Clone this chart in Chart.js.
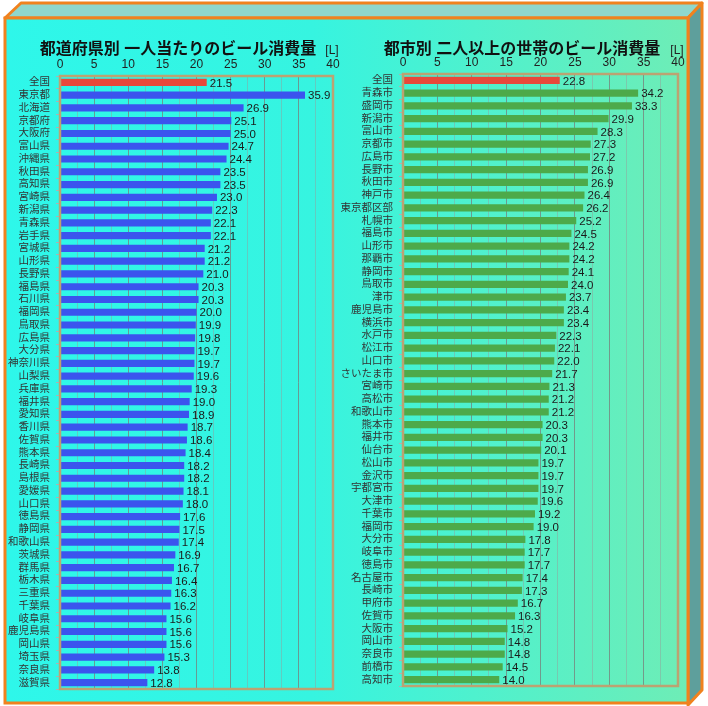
<!DOCTYPE html>
<html>
<head>
<meta charset="utf-8">
<script src="https://cdn.jsdelivr.net/npm/chart.js@4.4.1/dist/chart.umd.min.js"></script>
<style>
  html, body { margin: 0; padding: 0; background: #fff; }
  #wrap { position: relative; width: 708px; height: 706px; overflow: hidden; }
  #frame { position: absolute; left: 0; top: 0; }
  canvas { position: absolute; top: 0; }
  #leftChart { left: 0; }
  #rightChart { left: 336px; }
</style>
</head>
<body>
<div id="wrap">
  <svg id="frame" width="708" height="706">
    <defs>
      <linearGradient id="face" x1="0" y1="0" x2="1" y2="0">
        <stop offset="0" stop-color="#2ef7ea"/>
        <stop offset="0.45" stop-color="#36f4e0"/>
        <stop offset="1" stop-color="#6eedb6"/>
      </linearGradient>
    </defs>
    <polygon points="5,18 21,3 702,3 688,18" fill="#8fd7cc" stroke="#f0821e" stroke-width="3" stroke-linejoin="round"/>
    <polygon points="688,18 702,3 702,690 688,705" fill="#5e9f9c" stroke="#f0821e" stroke-width="3" stroke-linejoin="round"/>
    <rect x="5" y="18" width="683" height="685" fill="url(#face)" stroke="#f0821e" stroke-width="3"/>
  </svg>
  <canvas id="leftChart" width="350" height="706"></canvas>
  <canvas id="rightChart" width="372" height="706"></canvas>
</div>
<script>
// 都道府県別 一人当たりのビール消費量 [L]
const prefLabels = ['全国', '東京都', '北海道', '京都府', '大阪府', '富山県', '沖縄県', '秋田県', '高知県', '宮崎県',
    '新潟県', '青森県', '岩手県', '宮城県', '山形県', '長野県', '福島県', '石川県', '福岡県', '鳥取県',
    '広島県', '大分県', '神奈川県', '山梨県', '兵庫県', '福井県', '愛知県', '香川県', '佐賀県', '熊本県',
    '長崎県', '島根県', '愛媛県', '山口県', '徳島県', '静岡県', '和歌山県', '茨城県', '群馬県', '栃木県',
    '三重県', '千葉県', '岐阜県', '鹿児島県', '岡山県', '埼玉県', '奈良県', '滋賀県'];
const prefValues = [21.5, 35.9, 26.9, 25.1, 25.0, 24.7, 24.4, 23.5, 23.5, 23.0,
    22.3, 22.1, 22.1, 21.2, 21.2, 21.0, 20.3, 20.3, 20.0, 19.9,
    19.8, 19.7, 19.7, 19.6, 19.3, 19.0, 18.9, 18.7, 18.6, 18.4,
    18.2, 18.2, 18.1, 18.0, 17.6, 17.5, 17.4, 16.9, 16.7, 16.4,
    16.3, 16.2, 15.6, 15.6, 15.6, 15.3, 13.8, 12.8];

// 都市別 二人以上の世帯のビール消費量 [L]
const cityLabels = ['全国', '青森市', '盛岡市', '新潟市', '富山市', '京都市', '広島市', '長野市', '秋田市', '神戸市',
    '東京都区部', '札幌市', '福島市', '山形市', '那覇市', '静岡市', '鳥取市', '津市', '鹿児島市', '横浜市',
    '水戸市', '松江市', '山口市', 'さいたま市', '宮崎市', '高松市', '和歌山市', '熊本市', '福井市', '仙台市',
    '松山市', '金沢市', '宇都宮市', '大津市', '千葉市', '福岡市', '大分市', '岐阜市', '徳島市', '名古屋市',
    '長崎市', '甲府市', '佐賀市', '大阪市', '岡山市', '奈良市', '前橋市', '高知市'];
const cityValues = [22.8, 34.2, 33.3, 29.9, 28.3, 27.3, 27.2, 26.9, 26.9, 26.4,
    26.2, 25.2, 24.5, 24.2, 24.2, 24.1, 24.0, 23.7, 23.4, 23.4,
    22.3, 22.1, 22.0, 21.7, 21.3, 21.2, 21.2, 20.3, 20.3, 20.1,
    19.7, 19.7, 19.7, 19.6, 19.2, 19.0, 17.8, 17.7, 17.7, 17.4,
    17.3, 16.7, 16.3, 15.2, 14.8, 14.8, 14.5, 14.0];

const axisMin = 0;
const axisMax = 40;
const axisStep = 2.5;

const FONT = "'Liberation Sans', 'Noto Sans CJK JP', sans-serif";
const RED = '#e8483a';

// タイトル・単位・枠線・数値ラベル
const decorPlugin = {
    id: 'decor',
    afterDatasetsDraw(chart, args, opts) {
        const ctx = chart.ctx;
        const area = chart.chartArea;
        ctx.save();
        // 数値ラベル
        ctx.font = '11.5px ' + FONT;
        ctx.fillStyle = '#1a1a1a';
        ctx.textAlign = 'left';
        ctx.textBaseline = 'middle';
        const meta = chart.getDatasetMeta(0);
        meta.data.forEach((bar, i) => {
            const v = chart.data.datasets[0].data[i];
            ctx.fillText(v.toFixed(1), bar.x + 3, bar.y + 1);
        });
        // 枠
        ctx.strokeStyle = '#bca272';
        ctx.lineWidth = 2.5;
        ctx.strokeRect(area.left, area.top, area.right - area.left, area.bottom - area.top);
        // タイトル
        ctx.fillStyle = '#111';
        ctx.textAlign = 'center';
        ctx.font = 'bold 16px ' + FONT;
        ctx.fillText(opts.text, opts.x, 50);
        ctx.font = '12px ' + FONT;
        ctx.fillStyle = '#222';
        ctx.fillText('[L]', area.right - 1, 51);
        ctx.restore();
    }
};

function makeChart(id, labels, values, barColor, opt) {
    return new Chart(document.getElementById(id).getContext('2d'), {
        type: 'bar',
        data: {
            labels: labels,
            datasets: [{
                data: values,
                backgroundColor: values.map((v, i) => i === 0 ? RED : barColor),
                barPercentage: 0.56,
                categoryPercentage: 1.0
            }]
        },
        options: {
            indexAxis: 'y',
            responsive: false,
            animation: false,
            layout: {
                padding: { left: 0, right: opt.padRight, top: opt.padTop, bottom: opt.padBottom }
            },
            plugins: {
                legend: { display: false },
                tooltip: { enabled: false },
                decor: { text: opt.title, x: opt.titleX }
            },
            scales: {
                x: {
                    position: 'top',
                    min: axisMin,
                    max: axisMax,
                    afterFit: function(scale) { scale.height = 20; },
                    afterBuildTicks: function(scale) {
                        const t = [];
                        for (let v = axisMin; v <= axisMax + 0.001; v += axisStep) t.push({ value: v });
                        scale.ticks = t;
                    },
                    ticks: {
                        autoSkip: false,
                        maxRotation: 0,
                        padding: 4,
                        color: '#222',
                        font: { family: FONT, size: 12 },
                        callback: function(value) {
                            return value % 5 === 0 ? String(value) : '';
                        }
                    },
                    grid: {
                        drawTicks: false,
                        color: function(c) {
                            return c.tick && c.tick.value % 5 === 0 ? 'rgba(120,125,122,0.75)' : 'rgba(150,155,152,0.45)';
                        },
                        lineWidth: 1
                    },
                    border: { display: false }
                },
                y: {
                    afterFit: function(scale) { scale.width = opt.axisWidth; },
                    ticks: {
                        autoSkip: false,
                        padding: 6,
                        color: '#333',
                        font: { family: FONT, size: 10.5 }
                    },
                    grid: {
                        drawOnChartArea: false,
                        tickLength: 4,
                        color: '#b0b0b0'
                    },
                    border: { display: false }
                }
            }
        },
        plugins: [decorPlugin]
    });
}

makeChart('leftChart', prefLabels, prefValues, '#3b54ee', {
    title: '都道府県別 一人当たりのビール消費量',
    titleX: 178,
    axisWidth: 60,
    padRight: 17,
    padTop: 56,
    padBottom: 17
});

makeChart('rightChart', cityLabels, cityValues, '#4daa4a', {
    title: '都市別 二人以上の世帯のビール消費量',
    titleX: 186,
    axisWidth: 67,
    padRight: 30,
    padTop: 54,
    padBottom: 20
});
</script>
</body>
</html>
